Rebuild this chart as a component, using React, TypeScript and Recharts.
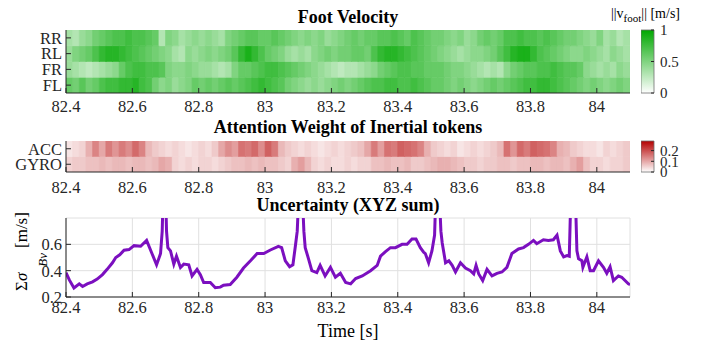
import React from 'react'
import { ComposedChart, BarChart, Bar, Cell, XAxis, YAxis, LineChart, Line, CartesianGrid } from 'recharts'

const FONT = '"Liberation Serif", "Times New Roman", serif'
const INK = '#262626'

// time axis shared by all three panels
const timeTicks = [82.4, 82.6, 82.8, 83, 83.2, 83.4, 83.6, 83.8, 84]
const timeRange = [82.4, 84.1]
const binStart = 82.4
const binWidth = 0.02

// foot velocity heatmap, 0.02 s bins from 82.40 s, values in m/s
const footRows = ['FL', 'FR', 'RL', 'RR']
const footRR = [
  0.35, 0.3, 0.4, 0.45, 0.55, 0.6, 0.65, 0.7, 0.7, 0.75, 0.7, 0.7, 0.65, 0.6, 0.3, 0.5, 0.45, 0.35, 0.4, 0.45,
  0.4, 0.45, 0.4, 0.35, 0.5, 0.55, 0.6, 0.65, 0.65, 0.6, 0.6, 0.65, 0.6, 0.55, 0.5, 0.45, 0.5, 0.45, 0.5, 0.4,
  0.45, 0.5, 0.55, 0.6, 0.55, 0.6, 0.6, 0.65, 0.65, 0.7, 0.65, 0.6, 0.7, 0.65, 0.6, 0.55, 0.55, 0.5, 0.45, 0.5,
  0.4, 0.45, 0.55, 0.6, 0.55, 0.6, 0.7, 0.7, 0.75, 0.7, 0.7, 0.65, 0.7, 0.65, 0.6, 0.55, 0.55, 0.5, 0.45, 0.4,
  0.5, 0.35, 0.4, 0.3, 0.35,
]
const footRL = [
  0.4, 0.5, 0.55, 0.6, 0.7, 0.8, 0.85, 0.85, 0.8, 0.75, 0.7, 0.65, 0.6, 0.55, 0.5, 0.45, 0.35, 0.3, 0.45, 0.4,
  0.45, 0.5, 0.45, 0.5, 0.55, 0.65, 0.8, 0.9, 0.8, 0.7, 0.6, 0.55, 0.5, 0.4, 0.35, 0.4, 0.35, 0.45, 0.5, 0.55,
  0.5, 0.55, 0.55, 0.6, 0.6, 0.55, 0.7, 0.8, 0.85, 0.85, 0.8, 0.75, 0.7, 0.65, 0.6, 0.55, 0.5, 0.45, 0.4, 0.35,
  0.4, 0.45, 0.45, 0.5, 0.55, 0.65, 0.75, 0.85, 0.9, 0.9, 0.8, 0.7, 0.65, 0.6, 0.55, 0.5, 0.45, 0.45, 0.5, 0.45,
  0.4, 0.35, 0.45, 0.4, 0.35,
]
const footFR = [
  0.4, 0.35, 0.3, 0.25, 0.3, 0.35, 0.4, 0.45, 0.6, 0.7, 0.75, 0.75, 0.7, 0.7, 0.65, 0.5, 0.45, 0.45, 0.5, 0.45,
  0.4, 0.4, 0.35, 0.3, 0.35, 0.5, 0.6, 0.6, 0.65, 0.7, 0.75, 0.75, 0.7, 0.65, 0.6, 0.55, 0.5, 0.45, 0.4, 0.35,
  0.3, 0.25, 0.3, 0.3, 0.35, 0.4, 0.45, 0.55, 0.6, 0.65, 0.7, 0.7, 0.65, 0.65, 0.6, 0.6, 0.6, 0.55, 0.5, 0.5,
  0.45, 0.4, 0.35, 0.3, 0.35, 0.3, 0.45, 0.55, 0.6, 0.65, 0.65, 0.7, 0.7, 0.75, 0.7, 0.65, 0.65, 0.6, 0.45, 0.4,
  0.35, 0.4, 0.35, 0.45, 0.4,
]
const footFL = [
  0.6, 0.55, 0.65, 0.55, 0.6, 0.7, 0.75, 0.75, 0.8, 0.8, 0.85, 0.75, 0.7, 0.55, 0.45, 0.5, 0.4, 0.45, 0.5, 0.6,
  0.55, 0.6, 0.55, 0.6, 0.65, 0.6, 0.65, 0.7, 0.75, 0.8, 0.75, 0.7, 0.65, 0.55, 0.5, 0.45, 0.4, 0.45, 0.4, 0.45,
  0.5, 0.55, 0.5, 0.55, 0.6, 0.65, 0.7, 0.7, 0.75, 0.75, 0.7, 0.7, 0.75, 0.7, 0.65, 0.6, 0.6, 0.55, 0.5, 0.55,
  0.5, 0.45, 0.5, 0.55, 0.6, 0.55, 0.6, 0.65, 0.7, 0.75, 0.75, 0.8, 0.8, 0.75, 0.7, 0.65, 0.6, 0.55, 0.5, 0.55,
  0.5, 0.45, 0.5, 0.55, 0.5,
]

// attention weights of the inertial tokens, same bins
const inertialRows = ['GYRO', 'ACC']
const attnACC = [
  0.03, 0.04, 0.05, 0.09, 0.14, 0.1, 0.15, 0.12, 0.15, 0.13, 0.17, 0.14, 0.08, 0.06, 0.05, 0.04, 0.05, 0.04, 0.03, 0.04,
  0.05, 0.04, 0.06, 0.1, 0.13, 0.11, 0.16, 0.15, 0.17, 0.13, 0.18, 0.15, 0.08, 0.06, 0.05, 0.04, 0.05, 0.04, 0.03, 0.04,
  0.05, 0.04, 0.05, 0.06, 0.07, 0.1, 0.15, 0.11, 0.16, 0.15, 0.18, 0.17, 0.16, 0.14, 0.09, 0.06, 0.05, 0.04, 0.05, 0.03,
  0.04, 0.05, 0.04, 0.05, 0.06, 0.08, 0.16, 0.12, 0.17, 0.15, 0.18, 0.17, 0.16, 0.14, 0.09, 0.08, 0.06, 0.05, 0.04, 0.04,
  0.03, 0.05, 0.04, 0.05, 0.06,
]
const attnGYRO = [
  0.05, 0.06, 0.06, 0.07, 0.07, 0.08, 0.07, 0.08, 0.08, 0.07, 0.08, 0.08, 0.07, 0.08, 0.1, 0.09, 0.05, 0.04, 0.05, 0.04,
  0.05, 0.05, 0.04, 0.05, 0.06, 0.07, 0.07, 0.08, 0.07, 0.08, 0.07, 0.07, 0.06, 0.05, 0.09, 0.11, 0.08, 0.05, 0.04, 0.05,
  0.04, 0.04, 0.05, 0.04, 0.05, 0.05, 0.07, 0.07, 0.08, 0.07, 0.07, 0.08, 0.06, 0.06, 0.07, 0.08, 0.09, 0.09, 0.08, 0.07,
  0.06, 0.06, 0.05, 0.06, 0.06, 0.07, 0.07, 0.06, 0.07, 0.07, 0.08, 0.08, 0.07, 0.08, 0.08, 0.07, 0.09, 0.11, 0.07, 0.05,
  0.05, 0.04, 0.05, 0.05, 0.06,
]

// summed velocity uncertainty
const sigmaTime = [
  82.4, 82.41, 82.424, 82.44, 82.45, 82.464, 82.48, 82.494, 82.51, 82.524, 82.54, 82.55, 82.562, 82.575, 82.59,
  82.605, 82.625, 82.643, 82.66, 82.673, 82.685, 82.69, 82.693, 82.7, 82.703, 82.707, 82.715, 82.725, 82.733,
  82.745, 82.755, 82.77, 82.78, 82.795, 82.805, 82.815, 82.835, 82.85, 82.865, 82.875, 82.895, 82.915, 82.935,
  82.956, 82.976, 82.996, 83.016, 83.04, 83.05, 83.061, 83.074, 83.084, 83.091, 83.097, 83.102, 83.112, 83.117,
  83.121, 83.131, 83.141, 83.156, 83.166, 83.181, 83.197, 83.212, 83.227, 83.243, 83.258, 83.273, 83.293, 83.318,
  83.338, 83.348, 83.363, 83.378, 83.393, 83.413, 83.428, 83.443, 83.455, 83.468, 83.478, 83.483, 83.493, 83.503,
  83.511, 83.515, 83.525, 83.53, 83.534, 83.544, 83.554, 83.564, 83.574, 83.589, 83.604, 83.619, 83.629, 83.636,
  83.644, 83.656, 83.669, 83.684, 83.699, 83.714, 83.729, 83.744, 83.764, 83.779, 83.794, 83.809, 83.819, 83.839,
  83.854, 83.869, 83.88, 83.89, 83.9, 83.91, 83.917, 83.922, 83.935, 83.94, 83.945, 83.955, 83.958, 83.97, 83.98,
  83.99, 84.005, 84.02, 84.03, 84.04, 84.05, 84.065, 84.075, 84.095, 84.1,
]
const sigmaValue = [
  0.385, 0.33, 0.268, 0.3, 0.28, 0.3, 0.315, 0.336, 0.37, 0.41, 0.46, 0.5, 0.52, 0.555, 0.56,
  0.59, 0.585, 0.63, 0.525, 0.444, 0.53, 0.7, 1.0, 1.0, 0.7, 0.575, 0.55, 0.45, 0.51,
  0.424, 0.45, 0.445, 0.36, 0.41, 0.37, 0.31, 0.31, 0.27, 0.275, 0.29, 0.295, 0.35, 0.42,
  0.475, 0.53, 0.53, 0.557, 0.585, 0.575, 0.475, 0.43, 0.445, 0.58, 0.7, 1.0, 1.0, 0.7,
  0.575, 0.49, 0.4, 0.385, 0.44, 0.36, 0.425, 0.35, 0.38, 0.31, 0.3, 0.34, 0.36, 0.4,
  0.44, 0.51, 0.545, 0.575, 0.575, 0.6, 0.6, 0.64, 0.64, 0.575, 0.54, 0.53, 0.46, 0.55,
  0.67, 1.0, 1.0, 0.7, 0.61, 0.46, 0.475, 0.44, 0.39, 0.46, 0.42, 0.4, 0.375, 0.44,
  0.375, 0.325, 0.41, 0.36, 0.38, 0.39, 0.425, 0.53, 0.565, 0.575, 0.6, 0.63, 0.605, 0.635,
  0.63, 0.635, 0.67, 0.55, 0.505, 0.515, 0.51, 1.0, 1.0, 0.55, 0.49, 0.475, 0.425, 0.505, 0.4,
  0.4, 0.475, 0.425, 0.38, 0.43, 0.325, 0.36, 0.35, 0.3, 0.295,
]

const footBarTicks = [0, 0.5, 1]
const attnBarTicks = [0, 0.1, 0.2]
const sigmaTicks = [0.2, 0.4, 0.6]

const GREEN = [0, 168, 0]
const RED = [180, 0, 0]
const FOOT_MAX = 1
const ATTN_MAX = 0.29

function mix(to: number[], v: number) {
  const k = Math.max(0, Math.min(1, v))
  const c = to.map((x) => Math.round(255 + (x - 255) * k))
  return `rgb(${c[0]},${c[1]},${c[2]})`
}

const NoLabel = () => <g />

const css = `
  svg text { font-family: ${FONT} !important; }
  .recharts-cartesian-axis-tick-value { font-size: 16.5px !important; fill: ${INK} !important; }
  .cbar .recharts-cartesian-axis-tick-value { font-size: 15px !important; }
`

function Heatmap({ top, height, plotTop, axisHeight, rows, values, to, max, tickMargin }: any) {
  // one record per time bin, every row a unit-high cell stacked on the previous one
  const data = values[0].map((_: number, i: number) => {
    const d: any = { t: binStart + binWidth * (i + 0.5) }
    rows.forEach((r: string) => (d[r] = 1))
    return d
  })
  const rowTicks = rows.map((_: string, i: number) => i + 0.5)
  return (
    <div style={{ position: 'absolute', left: 0, top }}>
      <ComposedChart
        width={712}
        height={height}
        data={data}
        margin={{ top: plotTop, right: 82, bottom: 0, left: 0 }}
        barCategoryGap={0}
        barGap={0}
      >
        {rows.map((r: string, k: number) => (
          <Bar key={r} xAxisId="time" yAxisId="rows" dataKey={r} stackId="cells" isAnimationActive={false}>
            {values[k].map((v: number, i: number) => (
              <Cell key={i} fill={mix(to, v / max)} stroke={mix(to, v / max)} strokeWidth={0.6} />
            ))}
          </Bar>
        ))}
        <Line
          xAxisId="timeTop"
          yAxisId="rowsRight"
          dataKey={rows[0]}
          stroke="none"
          dot={false}
          isAnimationActive={false}
        />
        <XAxis
          xAxisId="time"
          dataKey="t"
          type="number"
          domain={timeRange}
          allowDataOverflow
          ticks={timeTicks}
          interval={0}
          height={axisHeight}
          tickSize={-5}
          tickMargin={tickMargin}
          stroke={INK}
        />
        <XAxis
          xAxisId="timeTop"
          dataKey="t"
          orientation="top"
          type="number"
          domain={timeRange}
          allowDataOverflow
          ticks={timeTicks}
          interval={0}
          height={0}
          tickSize={-5}
          tick={NoLabel}
          stroke={INK}
        />
        <YAxis
          yAxisId="rows"
          type="number"
          domain={[0, rows.length]}
          allowDataOverflow
          ticks={rowTicks}
          interval={0}
          tickFormatter={(v: number) => rows[Math.floor(v)]}
          width={66}
          tickSize={-5}
          tickMargin={9}
          stroke={INK}
        />
        <YAxis
          yAxisId="rowsRight"
          orientation="right"
          type="number"
          domain={[0, rows.length]}
          allowDataOverflow
          ticks={rowTicks}
          interval={0}
          width={0}
          tickSize={-5}
          tick={NoLabel}
          stroke={INK}
        />
      </ComposedChart>
    </div>
  )
}

function Colorbar({ id, top, height, plotTop, plotBottom, to, max, ticks }: any) {
  return (
    <div className="cbar" style={{ position: 'absolute', left: 641, top }}>
      <BarChart
        width={60}
        height={height}
        data={[{ c: 'bar', v: max }]}
        margin={{ top: plotTop, right: 0, bottom: height - plotBottom, left: 0 }}
        barCategoryGap={0}
      >
        <defs>
          <linearGradient id={id} x1="0" y1="1" x2="0" y2="0">
            <stop offset="0%" stopColor={mix(to, 0)} />
            <stop offset="100%" stopColor={mix(to, 1)} />
          </linearGradient>
        </defs>
        <Bar dataKey="v" fill={`url(#${id})`} stroke="#6e6e6e" strokeWidth={0.8} isAnimationActive={false} />
        <XAxis dataKey="c" hide />
        <YAxis
          orientation="right"
          type="number"
          domain={[0, max]}
          ticks={ticks}
          interval={0}
          width={47}
          tickSize={-3}
          tickMargin={9}
          axisLine={false}
          stroke={INK}
        />
      </BarChart>
    </div>
  )
}

function Uncertainty() {
  const data = sigmaTime.map((t, i) => ({ t, v: sigmaValue[i] }))
  return (
    <div style={{ position: 'absolute', left: 0, top: 190 }}>
      <LineChart width={712} height={154} data={data} margin={{ top: 28, right: 82, bottom: 0, left: 0 }}>
        <CartesianGrid xAxisId="time" yAxisId="sigma" stroke="#e0e0e0" />
        <XAxis
          xAxisId="time"
          dataKey="t"
          type="number"
          domain={timeRange}
          allowDataOverflow
          ticks={timeTicks}
          interval={0}
          height={47}
          tickSize={-5}
          tickMargin={9}
          stroke={INK}
        />
        <XAxis
          xAxisId="timeTop"
          orientation="top"
          type="number"
          domain={timeRange}
          allowDataOverflow
          ticks={timeTicks}
          interval={0}
          height={0}
          tickSize={-5}
          tick={NoLabel}
          stroke={INK}
        />
        <YAxis
          yAxisId="sigma"
          type="number"
          domain={[0.2, 0.8]}
          allowDataOverflow
          ticks={sigmaTicks}
          interval={0}
          width={66}
          tickSize={-5}
          tickMargin={9}
          stroke={INK}
        />
        <YAxis
          yAxisId="sigmaRight"
          orientation="right"
          type="number"
          domain={[0.2, 0.8]}
          allowDataOverflow
          ticks={sigmaTicks}
          interval={0}
          width={0}
          tickSize={-5}
          tick={NoLabel}
          stroke={INK}
        />
        <Line
          xAxisId="time"
          yAxisId="sigma"
          type="linear"
          dataKey="v"
          stroke="#7b0fbf"
          strokeWidth={3}
          dot={false}
          isAnimationActive={false}
        />
      </LineChart>
    </div>
  )
}

function Texts() {
  const title = { fontSize: 18, fontWeight: 700, fill: '#000', textAnchor: 'middle' as const }
  return (
    <svg width={712} height={344} style={{ position: 'absolute', left: 0, top: 0, pointerEvents: 'none' }}>
      <text x={348} y={22.5} {...title}>Foot Velocity</text>
      <text x={348} y={132.5} {...title}>Attention Weight of Inertial tokens</text>
      <text x={348} y={210.5} {...title}>Uncertainty (XYZ sum)</text>
      <text x={348} y={336.5} fontSize={18} fill="#000" textAnchor="middle">Time [s]</text>
      <text x={611} y={18} fontSize={14} fill="#000">
        ||v<tspan fontSize={11} dy={4}>foot</tspan>
        <tspan dy={-4}>|| [m/s]</tspan>
      </text>
      <text transform="translate(27,291) rotate(-90)" fontSize={17} fill="#000">
        Σ<tspan fontStyle="italic">σ</tspan>
        <tspan fontSize={13} fontStyle="italic" dx={6} dy={20}>Bv</tspan>
        <tspan dx={5} dy={-20}>[m/s]</tspan>
      </text>
    </svg>
  )
}

export default function App() {
  return (
    <div style={{ position: 'absolute', left: 0, top: 0, width: 712, height: 344, background: '#fff', fontFamily: FONT }}>
      <style>{css}</style>
      <Heatmap
        top={0}
        height={122}
        plotTop={30}
        axisHeight={29}
        rows={footRows}
        values={[footFL, footFR, footRL, footRR]}
        to={GREEN}
        max={FOOT_MAX}
        tickMargin={12.5}
      />
      <Colorbar id="footGrad" top={0} height={112} plotTop={30} plotBottom={93} to={GREEN} max={FOOT_MAX} ticks={footBarTicks} />
      <Heatmap
        top={110}
        height={100}
        plotTop={31}
        axisHeight={38}
        rows={inertialRows}
        values={[attnGYRO, attnACC]}
        to={RED}
        max={ATTN_MAX}
        tickMargin={14}
      />
      <Colorbar id="attnGrad" top={110} height={85} plotTop={31} plotBottom={62} to={RED} max={ATTN_MAX} ticks={attnBarTicks} />
      <Uncertainty />
      <Texts />
    </div>
  )
}
